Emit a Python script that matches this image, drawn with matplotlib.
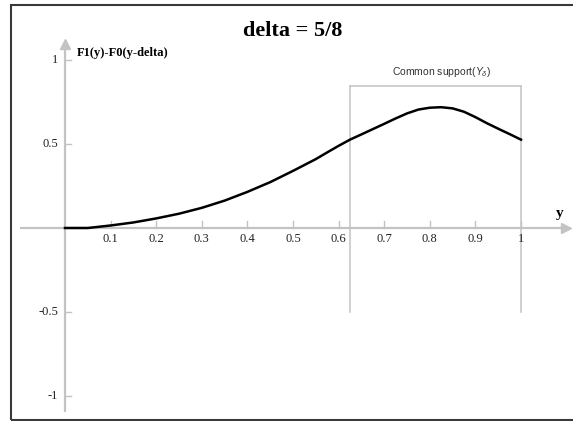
import numpy as np
import matplotlib
matplotlib.use("Agg")
import matplotlib.pyplot as plt

# curve F1(y) - F0(y - delta)
y_vals = [0.0, 0.05, 0.1, 0.15, 0.2, 0.25, 0.3, 0.35, 0.4, 0.45, 0.5, 0.55,
          0.575, 0.6, 0.625, 0.65, 0.7, 0.725, 0.75, 0.775, 0.8, 0.825, 0.85,
          0.875, 0.9, 0.925, 0.95, 0.975, 1.0]
diff_vals = [0.0, 0.0, 0.015, 0.033, 0.057, 0.085, 0.12, 0.163, 0.215, 0.273,
             0.34, 0.41, 0.45, 0.489, 0.526, 0.557, 0.62, 0.652, 0.682, 0.705,
             0.716, 0.719, 0.712, 0.692, 0.66, 0.624, 0.591, 0.559, 0.526]
x_ticks = [0.1, 0.2, 0.3, 0.4, 0.5, 0.6, 0.7, 0.8, 0.9, 1.0]
x_ticklabels = ["0.1", "0.2", "0.3", "0.4", "0.5", "0.6", "0.7", "0.8", "0.9", "1"]
y_ticks = [1.0, 0.5, -0.5, -1.0]
y_ticklabels = ["1", "0.5", "-0.5", "-1"]
delta = 5 / 8
support = (delta, 1.0)

plt.rcParams["mathtext.fontset"] = "custom"
plt.rcParams["mathtext.it"] = "Liberation Sans:italic"
plt.rcParams["mathtext.rm"] = "Liberation Sans"

fig = plt.figure(figsize=(5.73, 4.21), dpi=100)
ax = fig.add_axes([0, 0, 1, 1])
ax.set_axis_off()
# pixel mapping: x=0 -> 65px, x=1 -> 521px ; y=0 -> 228px, y=1 -> 60px
ax.set_xlim(-65 / 456, (573 - 65) / 456)
ax.set_ylim((228 - 421) / 168, 228 / 168)

grey = "#c3c3c3"
# axes with arrowheads
ax.plot([-0.099, 1.095], [0, 0], color=grey, lw=1.6, solid_capstyle="butt")
ax.plot([1.098], [0], marker=">", color=grey, ms=7, mec=grey)
ax.plot([0, 0], [-1.095, 1.08], color=grey, lw=1.6, solid_capstyle="butt")
ax.plot([0], [1.095], marker="^", color=grey, ms=7, mec=grey)

for t, lab in zip(x_ticks, x_ticklabels):
    ax.plot([t, t], [0, 0.04], color=grey, lw=1)
    ax.text(t, -0.065, lab, ha="center", va="center", family="Liberation Serif",
            fontsize=9, color="#222222")
for t, lab in zip(y_ticks, y_ticklabels):
    ax.plot([0, 0.014], [t, t], color=grey, lw=1)
    ax.text(-0.015, t, lab, ha="right", va="center", family="Liberation Serif",
            fontsize=9, color="#222222")

# common support bracket
top = 0.845
for s in support:
    ax.plot([s, s], [-0.5, top], color=grey, lw=1.1)
ax.plot(support, [top, top], color=grey, lw=1.1)
ax.text(0.825, 0.93, r"Common support($Y_{\delta}$)", ha="center", va="center",
        family="Liberation Sans", fontsize=7.5, color="#333333")

ax.plot(y_vals, diff_vals, color="black", lw=1.8)

ax.text(0.025, 1.04, "F1(y)-F0(y-delta)", ha="left", va="center",
        family="Liberation Serif", fontweight="bold", fontsize=9)
ax.text(1.085, 0.085, "y", ha="center", va="center", family="Liberation Serif",
        fontweight="bold", fontsize=11)
ax.text(0.5, 1.175, "delta = 5/8", ha="center", va="center",
        family="Liberation Serif", fontweight="bold", fontsize=16)

# frame (no right edge visible in the original)
frame = plt.Rectangle((11 / 573, 1 / 421), 1.2, 415 / 421, transform=fig.transFigure,
                      fill=False, ec="#3a3a3a", lw=1.5, clip_on=False)
fig.add_artist(frame)

fig.savefig("out.png", dpi=100)
